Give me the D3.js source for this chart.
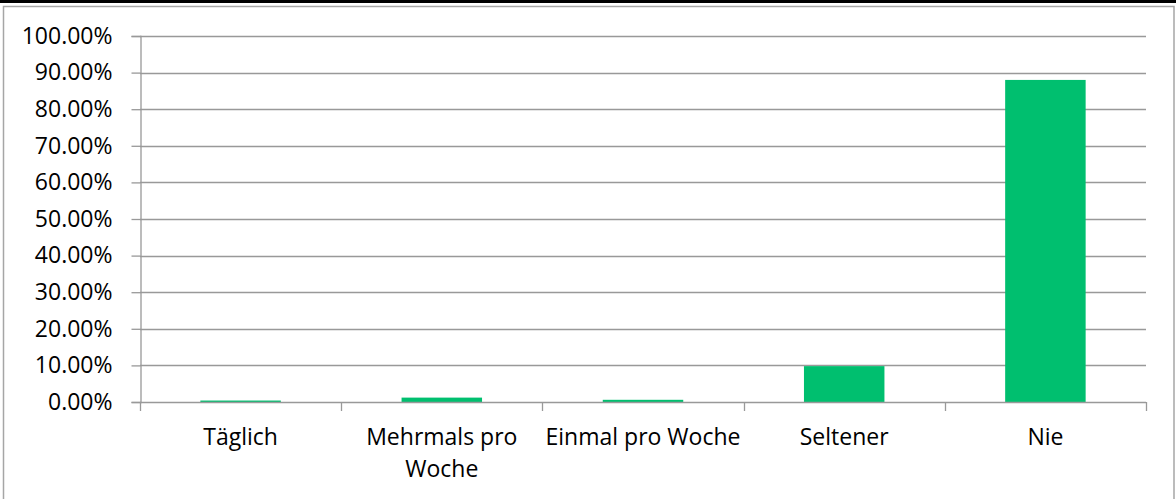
<!DOCTYPE html>
<html>
<head>
<meta charset="utf-8">
<script src="https://cdn.jsdelivr.net/npm/d3@7"></script>
<style>
  html, body { margin: 0; padding: 0; background: #fff; }
  svg { display: block; }
  text { font-family: "Open Sans", Lato, sans-serif; fill: #000; }
</style>
</head>
<body>
<svg id="chart" width="1176" height="499"></svg>
<script>
const categories = ["Täglich", "Mehrmals pro Woche", "Einmal pro Woche", "Seltener", "Nie"];
const values = [0.004, 0.012, 0.006, 0.098, 0.880];
const yTicks = [0, 0.1, 0.2, 0.3, 0.4, 0.5, 0.6, 0.7, 0.8, 0.9, 1.0];

const W = 1176, H = 499;
const plot = { left: 140, right: 1146, top: 36, bottom: 402 };
const fontSize = 23;
const svg = d3.select("#chart");

// top black rule and outer chart border
svg.append("rect").attr("x", 0).attr("y", 0).attr("width", W).attr("height", 3).attr("fill", "#000");
svg.append("rect").attr("x", 3.5).attr("y", 6.5).attr("width", 1170.5).attr("height", H)
  .attr("fill", "none").attr("stroke", "#a6a6a6").attr("stroke-width", 1.5);

const x = d3.scaleBand().domain(categories).range([plot.left, plot.right]).paddingInner(0).paddingOuter(0);
const y = d3.scaleLinear().domain([0, 1]).range([plot.bottom, plot.top]);
const gridColor = "#999999";

// gridlines
svg.append("g").selectAll("line").data(yTicks.filter(d => d > 0)).join("line")
  .attr("x1", plot.left).attr("x2", plot.right)
  .attr("y1", d => Math.round(y(d)) + 0.5).attr("y2", d => Math.round(y(d)) + 0.5)
  .attr("stroke", gridColor).attr("stroke-width", 1.3);

// y axis
const yAxis = d3.axisLeft(y).tickValues(yTicks).tickSize(9).tickPadding(19)
  .tickFormat(d => (d * 100).toFixed(2) + "%");
const gy = svg.append("g").attr("transform", `translate(${plot.left + 0.5},0)`).call(yAxis);
gy.select(".domain").attr("stroke", gridColor).attr("stroke-width", 1.3);
gy.selectAll(".tick line").attr("stroke", gridColor).attr("stroke-width", 1.3);
gy.selectAll(".tick text").attr("font-size", fontSize).attr("font-family", "Open Sans").attr("fill", "#000");

// bars
const barW = x.bandwidth() / 2.5;
svg.append("g").selectAll("rect").data(categories).join("rect")
  .attr("x", (d) => x(d) + (x.bandwidth() - barW) / 2)
  .attr("width", barW)
  .attr("y", (d, i) => y(values[i]))
  .attr("height", (d, i) => y(0) - y(values[i]))
  .attr("fill", "#00BF6F");

// x axis
const boundaries = categories.map(c => x(c)).concat([plot.right]);
const gx = svg.append("g");
gx.append("line").attr("x1", plot.left).attr("x2", plot.right)
  .attr("y1", plot.bottom + 0.5).attr("y2", plot.bottom + 0.5)
  .attr("stroke", gridColor).attr("stroke-width", 1.3);
gx.selectAll("line.tk").data(boundaries).join("line").attr("class", "tk")
  .attr("x1", d => Math.round(d) + 0.5).attr("x2", d => Math.round(d) + 0.5)
  .attr("y1", plot.bottom).attr("y2", plot.bottom + 9)
  .attr("stroke", gridColor).attr("stroke-width", 1.3);

// category labels with wrapping
const labels = gx.selectAll("text.cat").data(categories).join("text").attr("class", "cat")
  .attr("x", d => x(d) + x.bandwidth() / 2)
  .attr("y", 445)
  .attr("text-anchor", "middle")
  .attr("font-size", fontSize);
labels.each(function(d) {
  const t = d3.select(this);
  const words = d.split(" ");
  const maxW = x.bandwidth() + 4;
  let lines = [], cur = [];
  const probe = t.append("tspan");
  words.forEach(w => {
    const trial = cur.concat([w]).join(" ");
    probe.text(trial);
    if (probe.node().getComputedTextLength() > maxW && cur.length) {
      lines.push(cur.join(" ")); cur = [w];
    } else cur.push(w);
  });
  lines.push(cur.join(" "));
  probe.remove();
  lines.forEach((ln, i) => {
    t.append("tspan").attr("x", x(d) + x.bandwidth() / 2).attr("dy", i === 0 ? 0 : 32).text(ln);
  });
});
</script>
</body>
</html>
